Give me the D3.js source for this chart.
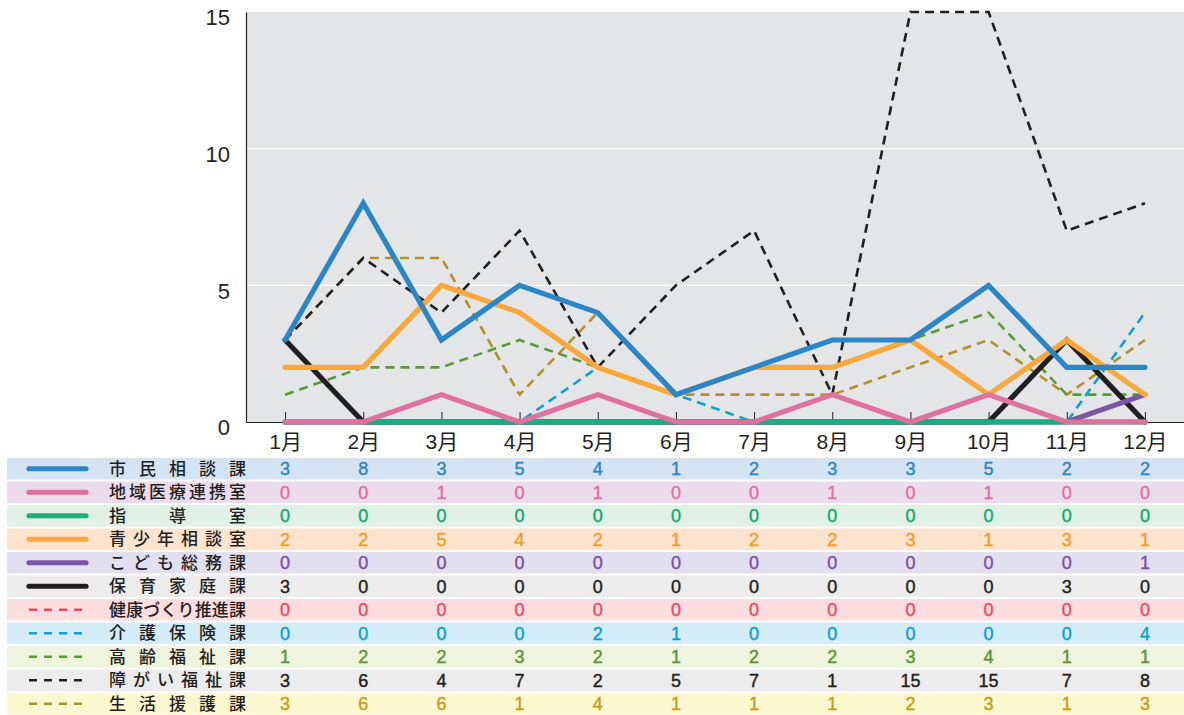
<!DOCTYPE html>
<html>
<head>
<meta charset="utf-8">
<script src="https://cdn.jsdelivr.net/npm/d3@7"></script>
<style>
  html, body { margin: 0; padding: 0; background: #ffffff; }
  svg { display: block; }
</style>
</head>
<body>
<svg id="chart" width="1184" height="715"></svg>
<script>
// Monthly counts per section
const months = ["1月","2月","3月","4月","5月","6月","7月","8月","9月","10月","11月","12月"];
const yTicks = [0, 5, 10, 15];

const names = ["市民相談課","地域医療連携室","指導室","青少年相談室","こども総務課","保育家庭課",
               "健康づくり推進課","介護保険課","高齢福祉課","障がい福祉課","生活援護課"];

const shimin     = [3, 8, 3, 5, 4, 1, 2, 3, 3, 5, 2, 2];
const chiiki     = [0, 0, 1, 0, 1, 0, 0, 1, 0, 1, 0, 0];
const shido      = [0, 0, 0, 0, 0, 0, 0, 0, 0, 0, 0, 0];
const seishonen  = [2, 2, 5, 4, 2, 1, 2, 2, 3, 1, 3, 1];
const kodomo     = [0, 0, 0, 0, 0, 0, 0, 0, 0, 0, 0, 1];
const hoiku      = [3, 0, 0, 0, 0, 0, 0, 0, 0, 0, 3, 0];
const kenko      = [0, 0, 0, 0, 0, 0, 0, 0, 0, 0, 0, 0];
const kaigo      = [0, 0, 0, 0, 2, 1, 0, 0, 0, 0, 0, 4];
const korei      = [1, 2, 2, 3, 2, 1, 2, 2, 3, 4, 1, 1];
const shogai     = [3, 6, 4, 7, 2, 5, 7, 1, 15, 15, 7, 8];
const seikatsu   = [3, 6, 6, 1, 4, 1, 1, 1, 2, 3, 1, 3];

const values = [shimin, chiiki, shido, seishonen, kodomo, hoiku, kenko, kaigo, korei, shogai, seikatsu];

// styling per series
const lineColors = ["#2b86c8","#e0709e","#16b07a","#fba83b","#7b55a5","#231f20",
                    "#ef4962","#0ea1d4","#5c9a35","#231f20","#b0922a"];
const textColors = ["#2b86c8","#e0709e","#13a86f","#f39c26","#7b4fa3","#231f20",
                    "#ef4962","#0a9fd3","#5b9632","#231f20","#c99a1a"];
const rowFills   = ["#d4e4f4","#ecdbec","#e0f0e6","#fee3cf","#e2e0f0","#ececec",
                    "#fddde0","#d3ecf8","#eef4de","#ececec","#fdf8d0"];
const dashed     = [false,false,false,false,false,false,true,true,true,true,true];

const series = names.map((n, i) => ({
  name: n, values: values[i], color: lineColors[i], text: textColors[i],
  fill: rowFills[i], dashed: dashed[i], index: i
}));

const svg = d3.select("#chart");
const plot = { left: 246, right: 1184, top: 12, bottom: 422 };

const x = d3.scalePoint().domain(months).range([plot.left, plot.right]).padding(0.5);
const y = d3.scaleLinear().domain([0, 15]).range([plot.bottom, plot.top]);

const latin = "'Liberation Sans', Arial, Helvetica, sans-serif";
const cjk = "'Liberation Sans', 'Noto Sans CJK JP', sans-serif";

// plot background
svg.append("rect")
  .attr("x", plot.left).attr("y", plot.top)
  .attr("width", plot.right - plot.left).attr("height", plot.bottom - plot.top)
  .attr("fill", "#e4e5e7");

// horizontal grid lines
svg.append("g").selectAll("line")
  .data(yTicks.filter(t => t > 0 && t < 15))
  .join("line")
  .attr("x1", plot.left).attr("x2", plot.right)
  .attr("y1", d => y(d)).attr("y2", d => y(d))
  .attr("stroke", "#ffffff").attr("stroke-width", 1.2);

// y axis
const yAxis = svg.append("g")
  .attr("transform", `translate(${plot.left},0)`)
  .call(d3.axisLeft(y).tickValues(yTicks).tickSize(0).tickPadding(16));
yAxis.select(".domain").attr("stroke", "#231f20").attr("stroke-width", 1.2);
yAxis.selectAll("text")
  .attr("font-family", latin).attr("font-size", 22).attr("fill", "#231f20")
  .attr("dy", "0.95em").attr("y", -8);

// x axis with inward ticks
const xAxis = svg.append("g")
  .attr("transform", `translate(0,${plot.bottom})`)
  .call(d3.axisBottom(x).tickSizeInner(-10).tickSizeOuter(0).tickPadding(10));
xAxis.select(".domain").attr("stroke", "#231f20").attr("stroke-width", 1.2);
xAxis.selectAll(".tick line").attr("stroke", "#231f20").attr("stroke-width", 1);
xAxis.selectAll("text")
  .attr("font-family", cjk).attr("font-size", 21).attr("fill", "#231f20")
  .attr("y", 27).attr("dy", 0);

// lines: dashed first, then solid ones with 市民相談課 on top
const line = d3.line()
  .x((d, i) => x(months[i]))
  .y(d => y(d));

const drawOrder = [
  ...series.filter(s => s.dashed).reverse(),
  ...series.filter(s => !s.dashed).reverse()
];

svg.append("g").selectAll("path")
  .data(drawOrder)
  .join("path")
  .attr("d", s => line(s.values))
  .attr("fill", "none")
  .attr("stroke", s => s.color)
  .attr("stroke-width", s => s.dashed ? 2.6 : 5.2)
  .attr("stroke-dasharray", s => s.dashed ? "9,6" : null)
  .attr("stroke-linejoin", "miter")
  .attr("stroke-linecap", s => s.dashed ? "butt" : "round");

// data table with legend keys
const table = { top: 458, pitch: 23.5, height: 21.5, left: 7 };

const rows = svg.append("g").selectAll("g")
  .data(series)
  .join("g")
  .attr("transform", s => `translate(0,${table.top + s.index * table.pitch})`);

rows.append("rect")
  .attr("x", table.left).attr("y", 0)
  .attr("width", plot.right - table.left).attr("height", table.height)
  .attr("fill", s => s.fill);

rows.append("line")
  .attr("x1", 29).attr("x2", 86)
  .attr("y1", table.height / 2).attr("y2", table.height / 2)
  .attr("stroke", s => s.color)
  .attr("stroke-width", s => s.dashed ? 2.6 : 5.2)
  .attr("stroke-dasharray", s => s.dashed ? "8,7" : null)
  .attr("stroke-linecap", s => s.dashed ? "butt" : "round");

// series names, spread evenly across the label column
const labelLeft = 109, labelRight = 246, labelSize = 17;
rows.each(function (s) {
  const chars = Array.from(s.name);
  const n = chars.length;
  const step = (labelRight - labelLeft - labelSize) / (n - 1);
  d3.select(this).append("g").selectAll("text")
    .data(chars)
    .join("text")
    .attr("x", (c, i) => labelLeft + i * step)
    .attr("y", table.height / 2 + 6)
    .attr("font-family", "'Noto Sans CJK JP', sans-serif")
    .attr("font-size", labelSize)
    .attr("font-weight", 500)
    .attr("fill", "#231f20")
    .text(c => c);
});

// monthly values
rows.each(function (s) {
  d3.select(this).append("g").selectAll("text")
    .data(s.values)
    .join("text")
    .attr("x", (v, i) => x(months[i]))
    .attr("y", table.height / 2 + 6.5)
    .attr("text-anchor", "middle")
    .attr("font-family", latin)
    .attr("font-size", 18)
    .attr("fill", s.text)
    .attr("stroke", s.text)
    .attr("stroke-width", 0.4)
    .text(v => v);
});
</script>
</body>
</html>
